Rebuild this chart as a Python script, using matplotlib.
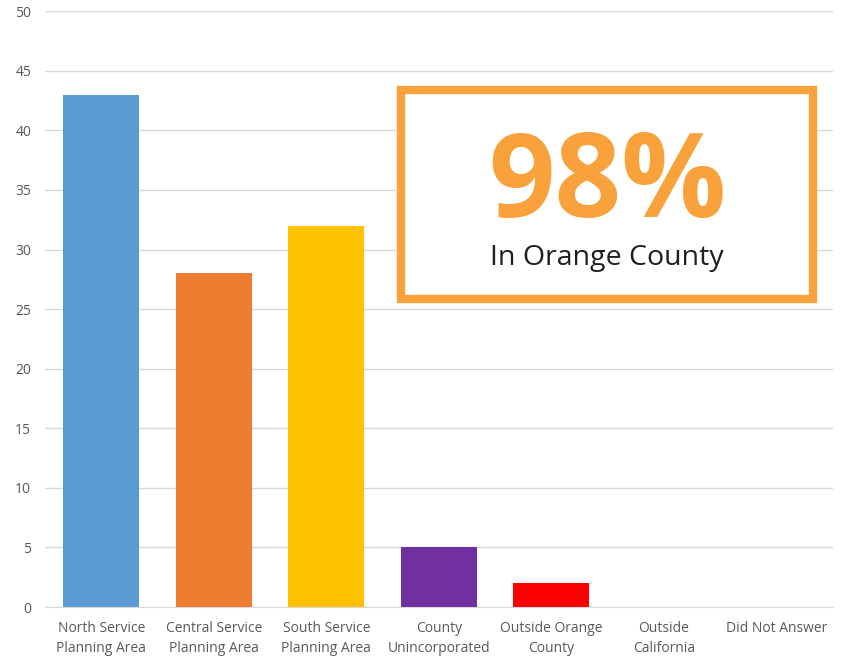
import matplotlib
matplotlib.use("Agg")
import matplotlib.pyplot as plt
from matplotlib.patches import Rectangle

CATEGORIES = ["North Service\nPlanning Area", "Central Service\nPlanning Area",
              "South Service\nPlanning Area", "County\nUnincorporated",
              "Outside Orange\nCounty", "Outside\nCalifornia", "Did Not Answer"]
VALUES = [43, 28, 32, 5, 2, 0, 0]
COLORS = ["#5B9BD5", "#ED7D31", "#FFC000", "#7030A0", "#FF0000", "#A5A5A5", "#4472C4"]
BIG_TEXT = "98%"
SUB_TEXT = "In Orange County"

plt.rcParams['font.family'] = ['Open Sans', 'DejaVu Sans']

fig = plt.figure(figsize=(8.42, 6.58), dpi=100)
ax = fig.add_axes([0.0535, 0.0775, 0.9355, 0.9055])

x = range(len(CATEGORIES))
ax.bar(x, VALUES, width=0.675, color=COLORS, zorder=3)

ax.set_xlim(-0.5, len(CATEGORIES) - 0.5)
ax.set_ylim(0, 50)
ax.set_yticks(range(0, 51, 5))
ax.set_xticks(list(x))
ax.set_xticklabels(CATEGORIES, fontsize=10, color="#595959", linespacing=1.5)
ax.tick_params(axis='y', labelsize=10, labelcolor="#595959", length=0, pad=10)
ax.tick_params(axis='x', length=0, pad=10)
ax.grid(axis='y', color="#D9D9D9", linewidth=1, zorder=0)
for s in ["top", "right", "left"]:
    ax.spines[s].set_visible(False)
ax.spines["bottom"].set_color("#D9D9D9")

# callout box
box = Rectangle((401 / 842, 1 - 299 / 658), (813 - 401) / 842, (299 - 90) / 658,
                transform=fig.transFigure, facecolor="white", edgecolor="#F9A13A",
                linewidth=6, zorder=5)
fig.add_artist(box)
fig.text(607 / 842, 1 - 217 / 658, BIG_TEXT, fontsize=84, fontweight="bold",
         color="#F9A13A", ha="center", va="baseline", zorder=6)
fig.text(607 / 842, 1 - 265 / 658, SUB_TEXT, fontsize=20.5, color="#1F1F1F",
         ha="center", va="baseline", zorder=6)

fig.savefig("out.png", dpi=100)
